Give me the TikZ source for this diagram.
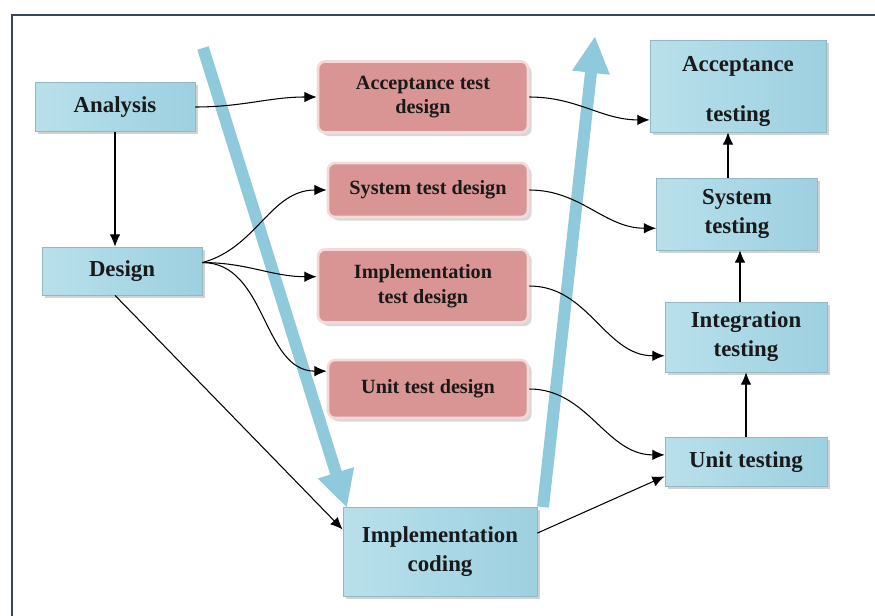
\documentclass[tikz,border=0pt]{standalone}
\usepackage{fontspec}
\setmainfont{Liberation Serif}
\usetikzlibrary{arrows.meta,shadows}
\definecolor{frameblue}{HTML}{37475A}
\definecolor{vblue}{HTML}{8ECADB}
\definecolor{boxlight}{HTML}{DDF1F7}
\definecolor{boxmid}{HTML}{B8E0EB}
\definecolor{boxdark}{HTML}{9DD0E0}
\definecolor{pinkfill}{HTML}{D99594}
\definecolor{pinkedge}{HTML}{F4D9D9}
\begin{document}
\begin{tikzpicture}[x=0.02cm, y=-0.02cm,
  phase/.style={draw=boxdark!70!gray, line width=0.4pt, left color=boxmid, middle color=boxlight, right color=boxdark,
    font=\fontsize{13}{16.5}\selectfont\bfseries, text=black!90, align=center, inner sep=0pt,
    drop shadow={shadow xshift=1.5pt, shadow yshift=-1.5pt, opacity=0.35}},
  testdesign/.style={rounded corners=4pt, fill=pinkfill, draw=pinkedge, line width=1.5pt,
    font=\fontsize{11.5}{14}\selectfont\bfseries, text=black!90, align=center, inner sep=0pt,
    drop shadow={shadow xshift=2pt, shadow yshift=-2pt, opacity=0.3}},
  link/.style={-{Latex[length=7pt,width=6pt]}, line width=0.6pt},
  vflow/.style={line width=6.8pt, vblue, -{Triangle[width=20pt,length=21pt]}}]
  \clip (0,0) rectangle (875,615);
  \fill[white] (0,0) rectangle (875,615);
  \draw[frameblue, line width=1.7pt] (12,640) -- (12,15) -- (900,15);

  \draw[vflow] (203,48) -- (347,508);
  \draw[vflow] (543,507) -- (595,36);

  \node[phase, minimum width=3.2cm, minimum height=0.98cm] (ana) at (115,107) {Analysis};
  \node[phase, minimum width=3.2cm, minimum height=0.96cm] (des) at (122,271) {Design};
  \node[phase, minimum width=3.88cm, minimum height=1.78cm] (impl) at (440,552) {Implementation\\coding};

  \node[testdesign, minimum width=4.2cm, minimum height=1.42cm] (atd) at (423,97) {Acceptance test\\design};
  \node[testdesign, minimum width=4.0cm, minimum height=1.08cm] (std) at (428,190) {System test design};
  \node[testdesign, minimum width=4.2cm, minimum height=1.46cm] (itd) at (423,286) {Implementation\\test design};
  \node[testdesign, minimum width=4.0cm, minimum height=1.16cm] (utd) at (428,389) {Unit test design};

  \node[phase, minimum width=3.52cm, minimum height=1.84cm] (acct) at (738,86) {\rule{0pt}{14.5pt}Acceptance\\[12pt]testing};
  \node[phase, minimum width=3.22cm, minimum height=1.44cm] (syst) at (737,214) {System\\testing};
  \node[phase, minimum width=3.24cm, minimum height=1.4cm] (intt) at (746,337) {Integration\\testing};
  \node[phase, minimum width=3.24cm, minimum height=0.98cm] (unit) at (746,462) {Unit testing};

  \draw[link] (ana.south) -- (des.north -| ana.south);
  \draw[link] (ana.east) to[out=0,in=180] (atd.west);
  \draw[link] (des.6) to[out=15,in=180] (std.west);
  \draw[link] (des.6) to[out=0,in=180] (itd.175);
  \draw[link] (des.6) to[out=0,in=180] (utd.170);
  \draw[link] ([xshift=-0.14cm]des.south) -- (impl.167);

  \draw[link] (atd.east) to[out=0,in=180] (acct.201);
  \draw[link] (std.east) to[out=0,in=180] (syst.190);
  \draw[link] (itd.east) to[out=0,in=180] (intt.193);
  \draw[link] (utd.east) to[out=0,in=180] (unit.175);
  \draw[link] (impl.11) -- (unit.190);

  \draw[link] (unit.north) -- (intt.south);
  \draw[link] ([xshift=-0.12cm]intt.north) -- ([xshift=-0.12cm]intt.north |- syst.south);
  \draw[link] ([xshift=-0.18cm]syst.north) -- ([xshift=-0.18cm]syst.north |- acct.south);
\end{tikzpicture}
\end{document}
